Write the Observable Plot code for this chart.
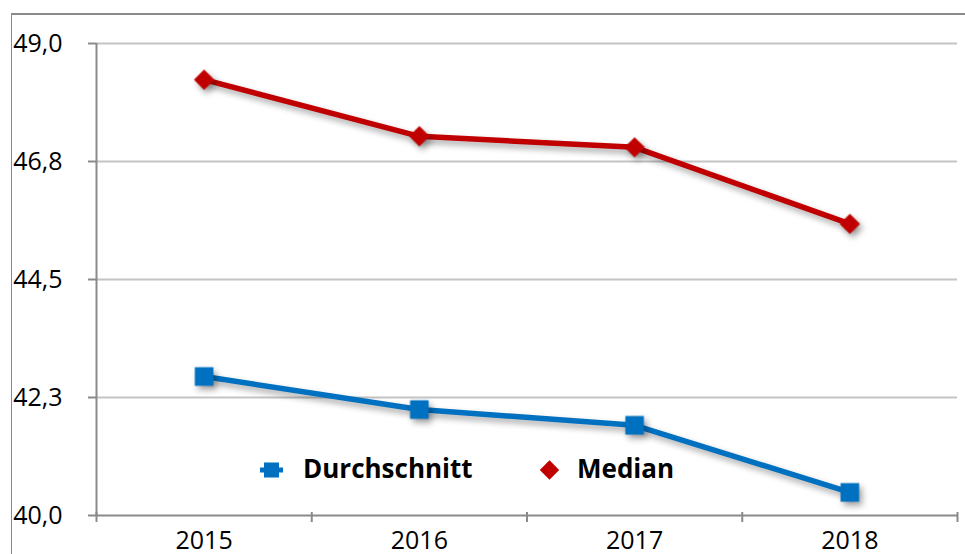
<!DOCTYPE html>
<html><head><meta charset="utf-8">
<script src="https://cdn.jsdelivr.net/npm/d3@7"></script>
<script src="https://cdn.jsdelivr.net/npm/@observablehq/plot@0.6"></script>
<style>
body{margin:0;background:#fff;}
#wrap{position:relative;width:965px;height:554px;overflow:hidden;font-family:"Open Sans";}
#frame{position:absolute;left:11px;top:13px;width:1000px;height:600px;border-top:2px solid #8a8a8a;border-left:1.5px solid #8a8a8a;}
#chart{position:absolute;left:0;top:0;}
</style>
</head><body>
<div id="wrap"><div id="frame"></div><div id="chart"></div></div>
<script>
const years = ["2015", "2016", "2017", "2018"];
const durchschnitt = [42.65, 42.02, 41.72, 40.44];
const median = [48.31, 47.23, 47.02, 45.56];
const yTicks = [40, 42.25, 44.5, 46.75, 49];
const yTickLabels = ["40,0", "42,3", "44,5", "46,8", "49,0"];
const seriesNames = ["Durchschnitt", "Median"];
const seriesColors = ["#0070C0", "#C00000"];
const seriesSymbols = ["square", "diamond2"];

const rows = years.flatMap((yr, i) => [
  {pos: i + 0.5, year: yr, series: seriesNames[0], value: durchschnitt[i]},
  {pos: i + 0.5, year: yr, series: seriesNames[1], value: median[i]}
]);
const axisColor = "#8a8a8a";

const plot = Plot.plot({
  width: 965, height: 554,
  marginLeft: 96, marginRight: 8, marginTop: 43, marginBottom: 39,
  style: {fontFamily: "Open Sans", fontSize: "25px", color: "#000", background: "transparent", overflow: "visible"},
  x: {type: "linear", domain: [0, years.length]},
  y: {domain: [yTicks[0], yTicks[yTicks.length - 1]]},
  color: {domain: seriesNames, range: seriesColors},
  symbol: {domain: seriesNames, range: seriesSymbols},
  marks: [
    Plot.ruleY(yTicks.slice(1), {stroke: "#c4c4c4", strokeWidth: 2}),
    Plot.axisY({ticks: yTicks, tickFormat: d => yTickLabels[yTicks.indexOf(d)], tickSize: 8, tickPadding: 26, stroke: axisColor, strokeWidth: 2, strokeOpacity: 1, fill: "#000", label: null}),
    Plot.axisX({ticks: d3.range(years.length + 1), tickSize: 10, dy: -3, tickFormat: () => "", stroke: axisColor, strokeWidth: 2, strokeOpacity: 1, label: null}),
    Plot.axisX({ticks: years.map((_, i) => i + 0.5), tickSize: 0, tickPadding: 16, tickFormat: d => years[Math.floor(d)], fill: "#000", label: null}),
    Plot.ruleX([0], {stroke: axisColor, strokeWidth: 2}),
    Plot.ruleY([yTicks[0]], {stroke: axisColor, strokeWidth: 2}),
    Plot.line(rows, {x: "pos", y: "value", z: "series", stroke: "series", strokeWidth: 5.5}),
    Plot.dot(rows.filter(d => d.series === seriesNames[0]), {x: "pos", y: "value", symbol: "series", fill: "series", r: 10.5, stroke: null}),
    Plot.dot(rows.filter(d => d.series === seriesNames[1]), {x: "pos", y: "value", symbol: "series", fill: "series", r: 9.2, stroke: null})
  ]
});
document.getElementById("chart").appendChild(plot);

const svg = d3.select(plot);
svg.selectAll('g[aria-label="line"], g[aria-label="dot"]').style("filter", "drop-shadow(3px 4px 3px rgba(0,0,0,0.35))");

// legend
const lg = svg.append("g").attr("class", "legend").attr("text-anchor", "start");
const items = [
  {name: seriesNames[0], color: seriesColors[0], sym: d3.symbolSquare, size: 15 * 15, mx: 271.5, tx: 303},
  {name: seriesNames[1], color: seriesColors[1], sym: d3.symbolDiamond2, size: 15.5 * 15.5, mx: 549.5, tx: 577}
];
items.forEach(it => {
  const g = lg.append("g");
  if (it.sym === d3.symbolSquare) {
    g.append("line").attr("x1", it.mx - 11.5).attr("x2", it.mx + 11.5).attr("y1", 470).attr("y2", 470)
      .attr("stroke", it.color).attr("stroke-width", 5);
  }
  g.append("path").attr("d", d3.symbol(it.sym, it.size)()).attr("transform", `translate(${it.mx},470)`).attr("fill", it.color);
  g.append("text").attr("x", it.tx).attr("y", 478).attr("font-size", 26).attr("font-weight", 700)
    .attr("text-anchor", "start").attr("font-family", "Open Sans").attr("fill", "#000").text(it.name);
});
</script>
</body></html>
